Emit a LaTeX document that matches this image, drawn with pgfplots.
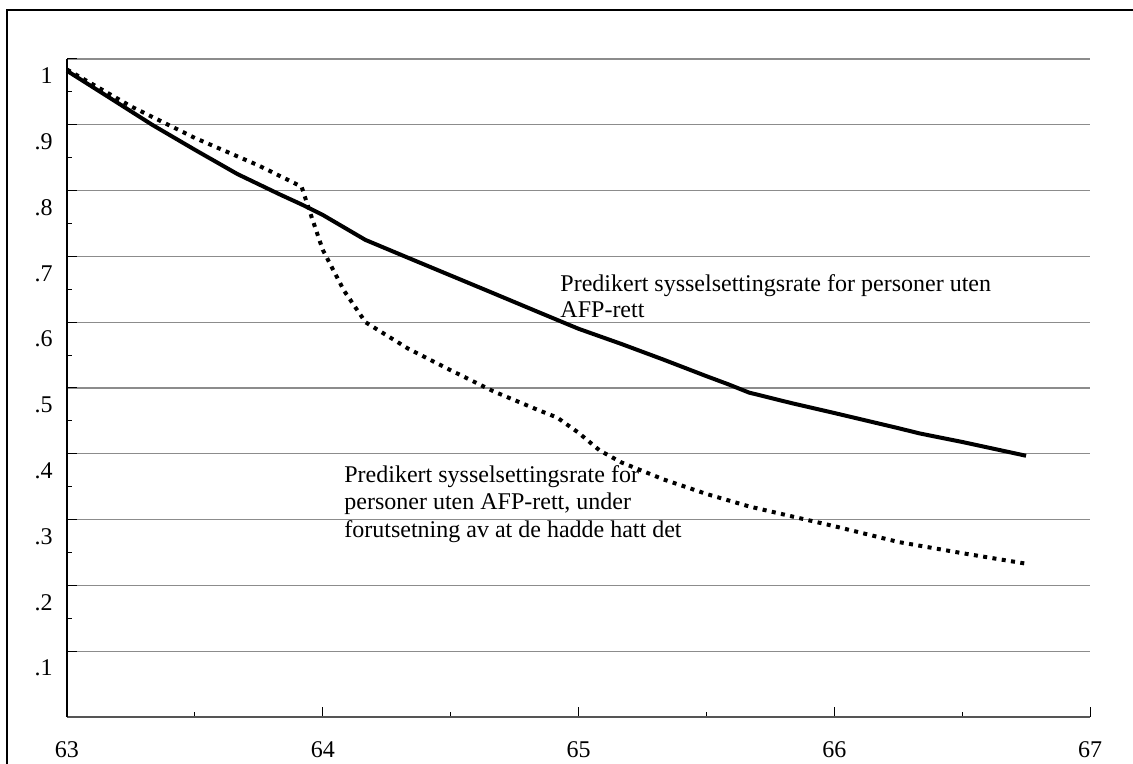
\documentclass[border=0pt]{standalone}
\usepackage{pgfplots}
\pgfplotsset{compat=1.18}
\usepackage{fontspec}
\setmainfont{Liberation Serif}

\definecolor{gridgray}{HTML}{8C8C8C}
\definecolor{xaxisgray}{HTML}{555555}

\begin{document}
\begin{tikzpicture}
    \useasboundingbox (0,0) rectangle (566.5pt,382pt);
    % outer frame, only left and top edges fall on the page
    \draw[line width=1pt] (3.5pt,-20pt) -- (3.5pt,377pt) -- (600pt,377pt);
    \begin{axis} [
        at={(33.5pt,23.5pt)}, anchor=south west,
        width=511.5pt, height=329pt, scale only axis=true,
        xmin=63, xmax=67, ymin=0, ymax=1,
        axis lines*=left,
        x axis line style={xaxisgray, line width=0.7pt},
        y axis line style={black, line width=0.6pt},
        xtick={63,64,65,66,67}, minor x tick num=1,
        ytick={0.1,0.2,0.3,0.4,0.5,0.6,0.7,0.8,0.9,1},
        yticklabels={.1,.2,.3,.4,.5,.6,.7,.8,.9,1},
        minor y tick num=1,
        tick align=inside,
        major tick length=5pt, minor tick length=2.5pt,
        tick style={black, line width=0.5pt},
        ymajorgrids=true,
        major grid style={gridgray, line width=0.6pt},
        /pgf/number format/assume math mode=true,
        tick label style={font=\fontsize{12}{14}\selectfont},
        yticklabel style={anchor=east, inner sep=0pt, xshift=-7pt, yshift=-8.5pt},
        xticklabel style={anchor=north, inner sep=0pt, yshift=-12.3pt},
        clip=false,
    ]
    % predikert sysselsettingsrate, uten AFP-rett
    \addplot[black, line width=2pt, line join=round] coordinates {
        (63.000, 0.982) (63.167, 0.941) (63.333, 0.900) (63.500, 0.862)
        (63.667, 0.825) (63.833, 0.794) (63.917, 0.779) (64.000, 0.763)
        (64.167, 0.725) (64.333, 0.698) (64.500, 0.671) (64.667, 0.644)
        (64.833, 0.617) (65.000, 0.590) (65.167, 0.567) (65.333, 0.543)
        (65.500, 0.518) (65.583, 0.506) (65.667, 0.493) (65.833, 0.477)
        (66.000, 0.462) (66.250, 0.439) (66.333, 0.431) (66.500, 0.418)
        (66.750, 0.397)
    };
    % predikert sysselsettingsrate, som om de hadde AFP-rett
    \addplot[black, line width=2pt, dash pattern=on 2pt off 2.7pt] coordinates {
        (63.000, 0.984) (63.250, 0.928) (63.500, 0.880) (63.750, 0.838)
        (63.917, 0.806) (63.958, 0.758) (64.000, 0.710) (64.083, 0.648)
        (64.167, 0.600) (64.333, 0.560) (64.500, 0.527) (64.667, 0.495)
        (64.833, 0.468) (64.917, 0.455) (65.000, 0.432) (65.083, 0.405)
        (65.167, 0.387) (65.333, 0.361) (65.500, 0.339) (65.667, 0.320)
        (65.833, 0.305) (66.000, 0.290) (66.250, 0.266) (66.500, 0.249)
        (66.750, 0.233)
    };
    \begin{scope}[every node/.style={anchor=base west, inner sep=0pt, font=\fontsize{12}{14}\selectfont}]
    \node at (axis cs:64.928,0.6462) {Predikert sysselsettingsrate for personer uten};
    \node at (axis cs:64.928,0.6067) {AFP-rett};
    \node at (axis cs:64.083,0.3558) {Predikert sysselsettingsrate for};
    \node at (axis cs:64.083,0.3147) {personer uten AFP-rett, under};
    \node at (axis cs:64.083,0.2722) {forutsetning av at de hadde hatt det};
    \end{scope}
    \end{axis}
\end{tikzpicture}
\end{document}
